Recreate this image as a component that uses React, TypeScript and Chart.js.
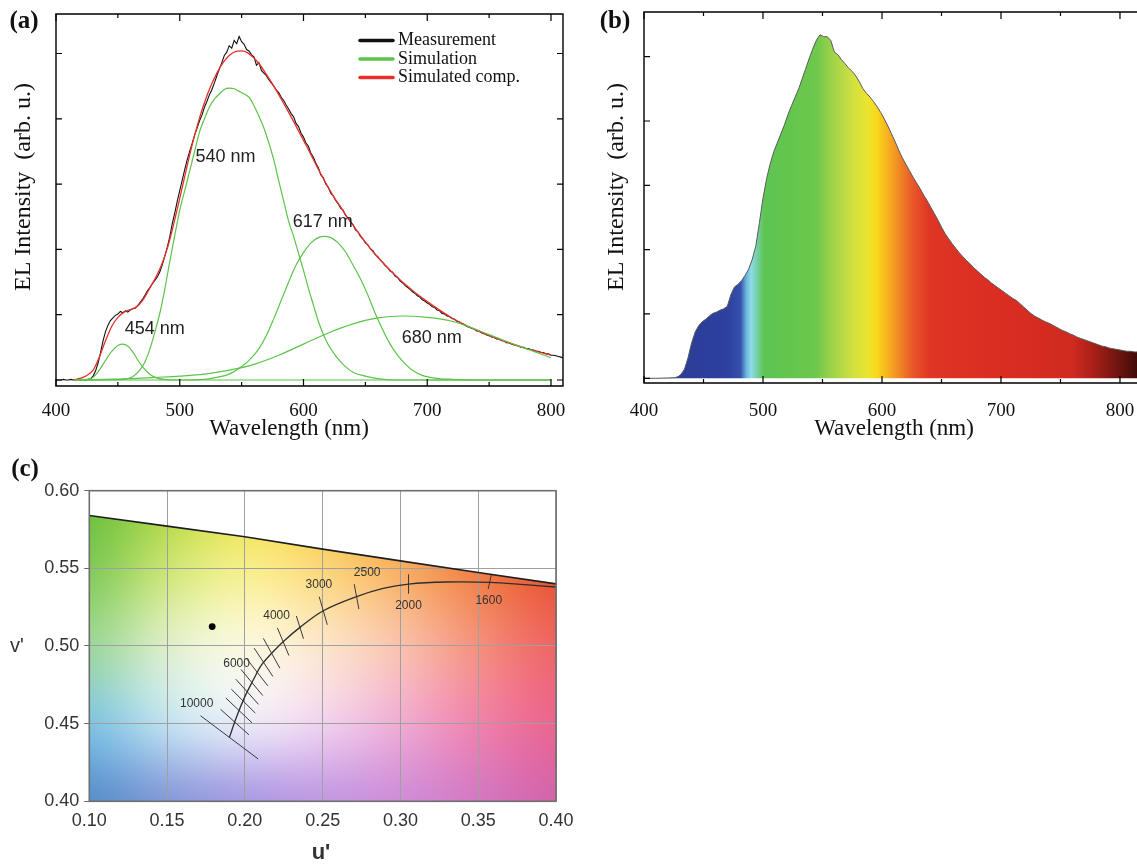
import React, { useEffect, useRef } from 'react';
import { Chart, registerables } from 'chart.js';

Chart.register(...registerables);

const SERIF = '"Liberation Serif", "Times New Roman", serif';
const SANS = '"Liberation Sans", Arial, sans-serif';

// ================= Panel (a) data =================
const A_X_TICKS = [400, 500, 600, 700, 800];
const A_X_MINOR = [450, 550, 650, 750];
const A_Y_TICKS = [0, 1, 2, 3, 4, 5];

const MEAS_START = 400;
const MEAS_STEP = 2;
const MEAS_INT = [
  0.00, 0.00, 0.00, 0.01, 0.00, 0.00, 0.01, 0.00, 0.00, 0.01,
  0.00, 0.01, 0.00, 0.01, 0.02, 0.06, 0.14, 0.26, 0.42, 0.60,
  0.74, 0.84, 0.91, 0.95, 0.99, 1.01, 1.05, 1.03, 1.06, 1.04,
  1.07, 1.09, 1.10, 1.14, 1.19, 1.24, 1.30, 1.37, 1.42, 1.48,
  1.53, 1.58, 1.66, 1.77, 1.90, 2.04, 2.20, 2.40, 2.56, 2.74,
  2.90, 3.06, 3.22, 3.37, 3.50, 3.62, 3.75, 3.86, 3.97, 4.06,
  4.18, 4.27, 4.37, 4.45, 4.55, 4.66, 4.76, 4.86, 4.97, 5.02,
  5.12, 5.08, 5.20, 5.15, 5.26, 5.18, 5.14, 5.06, 5.04, 4.98,
  4.95, 4.82, 4.86, 4.74, 4.70, 4.66, 4.60, 4.55, 4.50, 4.44,
  4.40, 4.33, 4.28, 4.21, 4.15, 4.08, 4.03, 3.93, 3.88, 3.78,
  3.72, 3.63, 3.58, 3.47, 3.41, 3.32, 3.25, 3.14, 3.10, 3.00,
  2.95, 2.86, 2.82, 2.75, 2.70, 2.63, 2.60, 2.52, 2.48, 2.42,
  2.38, 2.30, 2.27, 2.20, 2.16, 2.10, 2.07, 2.01, 1.98, 1.92,
  1.89, 1.84, 1.80, 1.75, 1.72, 1.67, 1.65, 1.59, 1.57, 1.52,
  1.49, 1.45, 1.42, 1.39, 1.35, 1.33, 1.29, 1.27, 1.23, 1.21,
  1.18, 1.16, 1.12, 1.11, 1.07, 1.06, 1.02, 1.01, 0.98, 0.97,
  0.94, 0.93, 0.90, 0.89, 0.86, 0.85, 0.82, 0.81, 0.79, 0.78,
  0.75, 0.75, 0.72, 0.71, 0.69, 0.68, 0.66, 0.65, 0.63, 0.63,
  0.60, 0.60, 0.57, 0.57, 0.55, 0.54, 0.53, 0.52, 0.50, 0.50,
  0.48, 0.48, 0.46, 0.46, 0.44, 0.44, 0.42, 0.42, 0.40, 0.40,
  0.38, 0.38, 0.37, 0.36, 0.35, 0.34,
];
const MEAS_WL = MEAS_INT.map((_, i) => MEAS_START + i * MEAS_STEP);

const FIT_WL = [414, 420, 425, 430, 435, 440, 445, 450, 455, 460, 465, 470, 475, 480, 485, 490, 495, 500,
  505, 510, 515, 520, 525, 530, 535, 540, 545, 550, 555, 560, 565, 570, 575, 580, 585, 590, 595, 600,
  605, 610, 615, 620, 625, 630, 635, 640, 645, 650, 655, 660, 665, 670, 675, 680, 685, 690, 695, 700,
  710, 720, 730, 740, 750, 760, 770, 780, 790, 800];
const FIT_INT = [0.0, 0.03, 0.07, 0.15, 0.35, 0.6, 0.82, 0.96, 1.04, 1.08, 1.12, 1.22, 1.38, 1.55, 1.75, 2.02, 2.38, 2.78,
  3.2, 3.6, 3.95, 4.25, 4.5, 4.7, 4.86, 4.97, 5.03, 5.04, 5.01, 4.93, 4.82, 4.68, 4.53, 4.37, 4.2, 4.03, 3.85, 3.67,
  3.49, 3.3, 3.12, 2.95, 2.79, 2.65, 2.5, 2.37, 2.24, 2.11, 1.99, 1.88, 1.78, 1.68, 1.59, 1.5, 1.42, 1.34, 1.27, 1.2,
  1.07, 0.95, 0.85, 0.76, 0.68, 0.61, 0.54, 0.48, 0.43, 0.38];

const C454_WL = [415, 425, 430, 435, 440, 445, 450, 454, 458, 462, 466, 470, 475, 480, 490, 500, 800];
const C454_INT = [0, 0.01, 0.04, 0.15, 0.30, 0.44, 0.53, 0.55, 0.52, 0.43, 0.31, 0.20, 0.10, 0.04, 0.005, 0, 0];

const C540_WL = [415, 440, 455, 462, 468, 472, 476, 480, 484, 488, 492, 496, 500, 504, 508, 512, 516, 520, 524,
  528, 532, 536, 540, 544, 548, 552, 556, 560, 564, 568, 572, 576, 580, 584, 588, 592, 596, 600, 604, 608,
  612, 616, 620, 626, 632, 640, 650, 660, 675, 800];
const C540_INT = [0, 0, 0.01, 0.05, 0.16, 0.28, 0.48, 0.74, 1.03, 1.40, 1.82, 2.22, 2.60, 2.90, 3.20, 3.50, 3.80, 4.00, 4.18,
  4.30, 4.38, 4.45, 4.47, 4.46, 4.42, 4.38, 4.33, 4.20, 4.04, 3.86, 3.63, 3.37, 3.05, 2.74, 2.43, 2.20, 1.94, 1.68, 1.40, 1.15,
  0.90, 0.70, 0.54, 0.37, 0.24, 0.12, 0.06, 0.02, 0, 0];

const C617_WL = [415, 500, 520, 530, 540, 548, 556, 564, 570, 576, 582, 588, 594, 600, 606, 612, 617, 622, 628, 634,
  640, 646, 652, 658, 664, 670, 676, 682, 688, 696, 706, 720, 740, 800];
const C617_INT = [0, 0, 0.01, 0.04, 0.09, 0.18, 0.30, 0.48, 0.68, 0.94, 1.22, 1.50, 1.76, 1.95, 2.10, 2.18, 2.20, 2.18, 2.10, 1.96,
  1.76, 1.55, 1.30, 1.02, 0.77, 0.55, 0.38, 0.25, 0.15, 0.07, 0.03, 0.01, 0, 0];

const C680_WL = [415, 440, 460, 480, 500, 520, 540, 560, 580, 600, 620, 640, 660, 680, 700, 720, 740, 760, 780, 800];
const C680_INT = [0, 0.01, 0.02, 0.04, 0.06, 0.09, 0.15, 0.24, 0.38, 0.55, 0.72, 0.86, 0.95, 0.98, 0.96, 0.90, 0.77, 0.62, 0.48, 0.34];

const PEAK_LABELS = ['454 nm', '540 nm', '617 nm', '680 nm'];
const PEAK_LABEL_WL = [479.8, 537, 615.6, 703.7];
const PEAK_LABEL_VAL = [0.776, 3.42, 2.42, 0.64];

const LEGEND_LABELS = ['Measurement', 'Simulation', 'Simulated comp.'];

// ================= Panel (b) data =================
const B_X_TICKS = [400, 500, 600, 700, 800];
const B_X_MINOR = [450, 550, 650, 750];
const B_Y_TICKS = [0, 1, 2, 3, 4, 5];

const B_WL = [
  400, 410, 420, 426, 429, 431, 434, 437, 440, 443,
  446, 449, 452, 455, 458, 461, 464, 467, 470, 473,
  476, 479, 482, 485, 488, 491, 494, 497, 500, 503,
  506, 509, 512, 515, 518, 521, 524, 527, 530, 533,
  536, 539, 542, 545, 548, 551, 554, 557, 560, 563,
  566, 569, 572, 575, 578, 581, 584, 587, 590, 593,
  596, 599, 602, 605, 608, 611, 614, 617, 620, 623,
  626, 629, 632, 635, 638, 641, 644, 647, 650, 653,
  656, 659, 662, 665, 668, 671, 674, 677, 680, 683,
  686, 689, 692, 695, 698, 701, 704, 707, 710, 713,
  716, 719, 722, 725, 728, 731, 734, 737, 740, 743,
  746, 749, 752, 755, 758, 761, 764, 767, 770, 773,
  776, 779, 782, 785, 788, 791, 794, 797, 800, 803,
  806, 809, 812, 815,
];
const B_INT = [
  0.00, 0.00, 0.005, 0.01, 0.03, 0.06, 0.14, 0.32, 0.55, 0.72,
  0.82, 0.88, 0.92, 0.97, 1.01, 1.03, 1.06, 1.08, 1.12, 1.30,
  1.42, 1.46, 1.52, 1.60, 1.70, 1.85, 2.06, 2.42, 2.80, 3.10,
  3.33, 3.52, 3.66, 3.80, 3.94, 4.10, 4.24, 4.37, 4.50, 4.66,
  4.82, 4.98, 5.13, 5.26, 5.34, 5.31, 5.31, 5.25, 5.07, 5.03,
  4.95, 4.89, 4.82, 4.77, 4.70, 4.61, 4.50, 4.43, 4.37, 4.30,
  4.22, 4.13, 4.03, 3.92, 3.80, 3.68, 3.55, 3.43, 3.33, 3.23,
  3.13, 3.04, 2.95, 2.85, 2.76, 2.66, 2.56, 2.46, 2.35, 2.25,
  2.17, 2.09, 2.02, 1.95, 1.89, 1.83, 1.78, 1.72, 1.67, 1.62,
  1.57, 1.53, 1.48, 1.44, 1.40, 1.36, 1.32, 1.28, 1.24, 1.21,
  1.16, 1.11, 1.06, 1.01, 0.97, 0.94, 0.91, 0.88, 0.86, 0.83,
  0.80, 0.77, 0.74, 0.72, 0.69, 0.67, 0.64, 0.62, 0.60, 0.58,
  0.56, 0.54, 0.52, 0.50, 0.49, 0.47, 0.46, 0.45, 0.44, 0.43,
  0.42, 0.42, 0.41, 0.41,
];

// spectral colour stops of the filled spectrum (style)
const SPEC_STOP_WL = [400, 433, 470, 481, 486, 490, 495, 501, 520, 545, 560, 575, 588, 596, 604, 614, 626, 640, 700, 760, 778, 800, 815];
const SPEC_STOP_COLOR = ['#2b3d96', '#2b3d96', '#2e40a0', '#3550aa', '#6cb4df', '#8fdbe8', '#74d0a6', '#5ec552', '#62c54e', '#6ec84c',
  '#a4d44a', '#cfe040', '#ece42e', '#f8d71a', '#f7b520', '#f08a25', '#e9572a', '#de3525', '#d92d22', '#d02a20', '#a81f18', '#6b1410', '#3d0a07'];

// ================= Panel (c) data =================
const U_TICKS = [0.10, 0.15, 0.20, 0.25, 0.30, 0.35, 0.40];
const V_TICKS = [0.40, 0.45, 0.50, 0.55, 0.60];

const LOCUS_U = [0.10, 0.15, 0.20, 0.25, 0.30, 0.35, 0.40];
const LOCUS_V = [0.5840, 0.5772, 0.5703, 0.5624, 0.5548, 0.5473, 0.5400];

const PLANCK_U = [0.1900, 0.1947, 0.2000, 0.2054, 0.2107, 0.2172, 0.2246, 0.2354, 0.2504, 0.2718, 0.2889, 0.3052, 0.3296, 0.3574, 0.3800, 0.4000];
const PLANCK_V = [0.4410, 0.4545, 0.4674, 0.4781, 0.4878, 0.4953, 0.5028, 0.5120, 0.5227, 0.5318, 0.5371, 0.5399, 0.5412, 0.5410, 0.5395, 0.5380];

// isotherm segments: [u1, v1, u2, v2]
const ISOTHERMS: number[][] = [
  [0.3584, 0.5457, 0.3564, 0.5367],
  [0.3052, 0.5459, 0.3052, 0.5339],
  [0.2703, 0.5398, 0.2733, 0.5238],
  [0.2478, 0.5317, 0.2530, 0.5137],
  [0.2331, 0.5193, 0.2377, 0.5047],
  [0.2209, 0.5117, 0.2283, 0.4939],
  [0.2119, 0.5049, 0.2225, 0.4857],
  [0.2060, 0.4986, 0.2180, 0.4804],
  [0.2013, 0.4916, 0.2147, 0.4744],
  [0.1975, 0.4849, 0.2115, 0.4681],
  [0.1942, 0.4786, 0.2088, 0.4624],
  [0.1913, 0.4722, 0.2067, 0.4568],
  [0.1878, 0.4665, 0.2046, 0.4505],
  [0.1844, 0.4592, 0.2026, 0.4428],
  [0.1715, 0.4551, 0.2085, 0.4273],
];
const CCT_LABELS = ['10000', '6000', '4000', '3000', '2500', '2000', '1600'];
const CCT_LABEL_U = [0.169, 0.1947, 0.2204, 0.2476, 0.2786, 0.3052, 0.3568];
const CCT_LABEL_V = [0.4627, 0.4884, 0.5193, 0.5393, 0.5472, 0.5260, 0.5292];

const SAMPLE_U = [0.179];
const SAMPLE_V = [0.5125];

// background colour field of the u'v' diagram (style), rows v'=0.60 -> 0.40, cols u'=0.10 -> 0.40
const BG_COLORS: number[][][] = [
  [[100, 190, 60], [170, 210, 60], [235, 225, 60], [248, 200, 60], [245, 160, 50], [235, 100, 40], [225, 60, 30]],
  [[125, 200, 85], [205, 230, 115], [248, 240, 140], [252, 215, 120], [248, 175, 95], [240, 125, 65], [232, 80, 45]],
  [[155, 215, 150], [225, 240, 205], [252, 250, 228], [252, 232, 205], [250, 195, 175], [245, 145, 125], [238, 100, 100]],
  [[125, 195, 228], [195, 228, 242], [238, 238, 250], [242, 212, 240], [240, 172, 212], [240, 130, 172], [235, 100, 142]],
  [[85, 140, 200], [130, 150, 215], [165, 150, 225], [190, 150, 225], [205, 140, 215], [210, 120, 195], [210, 100, 170]],
];

// ================= layout (page pixels) =================
const A_CANVAS = { left: 0, top: 0, width: 580, height: 450 };
const A_AREA = { left: 56, top: 14, right: 563, bottom: 386 };
const A_X = { min: 400, max: 809.7 };
const A_Y = { min: -0.0919, max: 5.605 };

const B_CANVAS = { left: 580, top: 0, width: 557, height: 450 };
const B_AREA = { left: 644, top: 12, right: 1137, bottom: 383 };
const B_X = { min: 400, max: 814.3 };
const B_Y = { min: -0.073, max: 5.694 };

const C_CANVAS = { left: 0, top: 455, width: 580, height: 411 };
const C_AREA = { left: 89.3, top: 490.7, right: 556, bottom: 801.3 };

const GREEN = '#5cc44a';
const RED = '#e8302a';
const BLACK = '#111111';

type Box = { left: number; top: number; width: number; height: number };
type Area = { left: number; top: number; right: number; bottom: number };
type Txt = { text: string; x: number; y: number; font: string; color?: string; align?: CanvasTextAlign; rot?: number };

const pts = (xs: number[], ys: number[]) => xs.map((x, i) => ({ x, y: ys[i] }));

function layoutFor(c: Box, a: Area) {
  return {
    padding: { top: a.top - c.top, right: c.left + c.width - a.right, left: 0, bottom: 0 },
    yWidth: a.left - c.left,
    xHeight: c.top + c.height - a.bottom,
  };
}

function zeroPad(s: any) {
  s.paddingLeft = 0;
  s.paddingRight = 0;
  s.paddingTop = 0;
  s.paddingBottom = 0;
}

function textPlugin(items: Txt[], c: Box) {
  return {
    id: 'pageTexts',
    afterDraw(chart: any) {
      const ctx = chart.ctx as CanvasRenderingContext2D;
      for (const t of items) {
        ctx.save();
        ctx.translate(t.x - c.left, t.y - c.top);
        if (t.rot) ctx.rotate(t.rot);
        ctx.font = t.font;
        ctx.fillStyle = t.color || '#111';
        ctx.textAlign = t.align || 'center';
        ctx.textBaseline = 'middle';
        ctx.fillText(t.text, 0, 0);
        ctx.restore();
      }
    },
  };
}

function dataTextPlugin(id: string, labels: string[], xs: number[], ys: number[], font: string, color: string) {
  return {
    id,
    afterDatasetsDraw(chart: any) {
      const ctx = chart.ctx as CanvasRenderingContext2D;
      const x = chart.scales.x;
      const y = chart.scales.y;
      ctx.save();
      ctx.font = font;
      ctx.fillStyle = color;
      ctx.textAlign = 'center';
      ctx.textBaseline = 'middle';
      labels.forEach((l, i) => ctx.fillText(l, x.getPixelForValue(xs[i]), y.getPixelForValue(ys[i])));
      ctx.restore();
    },
  };
}

function frameTicksPlugin(xMajor: number[], xMinor: number[], yMajor: number[], rightSide: boolean) {
  return {
    id: 'frameTicks',
    afterDatasetsDraw(chart: any) {
      const ctx = chart.ctx as CanvasRenderingContext2D;
      const a = chart.chartArea;
      const x = chart.scales.x;
      const y = chart.scales.y;
      ctx.save();
      ctx.strokeStyle = '#000';
      ctx.lineWidth = 1.4;
      ctx.beginPath();
      if (rightSide) {
        ctx.rect(a.left, a.top, a.right - a.left, a.bottom - a.top);
      } else {
        ctx.moveTo(a.right + 3, a.top);
        ctx.lineTo(a.left, a.top);
        ctx.lineTo(a.left, a.bottom);
        ctx.lineTo(a.right + 3, a.bottom);
      }
      ctx.stroke();
      ctx.lineWidth = 1.2;
      ctx.beginPath();
      const xt = (vals: number[], len: number) =>
        vals.forEach((v) => {
          const p = x.getPixelForValue(v);
          ctx.moveTo(p, a.bottom);
          ctx.lineTo(p, a.bottom - len);
          ctx.moveTo(p, a.top);
          ctx.lineTo(p, a.top + len);
        });
      xt(xMajor, 7);
      xt(xMinor, 4);
      yMajor.forEach((v) => {
        const p = y.getPixelForValue(v);
        ctx.moveTo(a.left, p);
        ctx.lineTo(a.left + 6, p);
        if (rightSide) {
          ctx.moveTo(a.right, p);
          ctx.lineTo(a.right - 6, p);
        }
      });
      ctx.stroke();
      ctx.restore();
    },
  };
}

const legendPlugin = {
  id: 'legendA',
  afterDraw(chart: any) {
    const ctx = chart.ctx as CanvasRenderingContext2D;
    const colors = [BLACK, GREEN, RED];
    const rows = [40.5, 59, 77.5];
    ctx.save();
    ctx.font = `18px ${SERIF}`;
    ctx.textBaseline = 'middle';
    ctx.textAlign = 'left';
    LEGEND_LABELS.forEach((l, i) => {
      ctx.strokeStyle = colors[i];
      ctx.lineWidth = 3.5;
      ctx.lineCap = 'round';
      ctx.beginPath();
      ctx.moveTo(360, rows[i]);
      ctx.lineTo(393, rows[i]);
      ctx.stroke();
      ctx.fillStyle = '#111';
      ctx.fillText(l, 398, rows[i]);
    });
    ctx.restore();
  },
};

const cieBackgroundPlugin = {
  id: 'cieBg',
  beforeDraw(chart: any) {
    const ctx = chart.ctx as CanvasRenderingContext2D;
    const a = chart.chartArea;
    const x = chart.scales.x;
    const y = chart.scales.y;
    const rows = BG_COLORS.length;
    const cols = BG_COLORS[0].length;
    const off = document.createElement('canvas');
    off.width = cols;
    off.height = rows;
    const octx = off.getContext('2d')!;
    const img = octx.createImageData(cols, rows);
    for (let r = 0; r < rows; r++) {
      for (let c = 0; c < cols; c++) {
        const k = (r * cols + c) * 4;
        img.data[k] = BG_COLORS[r][c][0];
        img.data[k + 1] = BG_COLORS[r][c][1];
        img.data[k + 2] = BG_COLORS[r][c][2];
        img.data[k + 3] = 255;
      }
    }
    octx.putImageData(img, 0, 0);
    ctx.save();
    ctx.imageSmoothingEnabled = true;
    (ctx as any).imageSmoothingQuality = 'high';
    const px0 = x.getPixelForValue(U_TICKS[0]);
    const px1 = x.getPixelForValue(U_TICKS[U_TICKS.length - 1]);
    const py0 = y.getPixelForValue(V_TICKS[V_TICKS.length - 1]);
    const py1 = y.getPixelForValue(V_TICKS[0]);
    ctx.drawImage(off, 0.5, 0.5, cols - 1, rows - 1, px0, py0, px1 - px0, py1 - py0);
    ctx.fillStyle = '#ffffff';
    ctx.beginPath();
    ctx.moveTo(a.left - 1, a.top - 1);
    LOCUS_U.forEach((u, i) => ctx.lineTo(x.getPixelForValue(u), y.getPixelForValue(LOCUS_V[i])));
    ctx.lineTo(a.right + 1, y.getPixelForValue(LOCUS_V[LOCUS_V.length - 1]));
    ctx.lineTo(a.right + 1, a.top - 1);
    ctx.closePath();
    ctx.fill();
    ctx.restore();
  },
};

const cieFramePlugin = {
  id: 'cieFrame',
  afterDatasetsDraw(chart: any) {
    const ctx = chart.ctx as CanvasRenderingContext2D;
    const a = chart.chartArea;
    ctx.save();
    ctx.strokeStyle = '#6e6e6e';
    ctx.lineWidth = 1.6;
    ctx.strokeRect(a.left, a.top, a.right - a.left, a.bottom - a.top);
    ctx.restore();
  },
};

function makeA(): any {
  const L = layoutFor(A_CANVAS, A_AREA);
  const comp = (wl: number[], v: number[]) => ({
    data: pts(wl, v), borderColor: GREEN, borderWidth: 1.2, pointRadius: 0, cubicInterpolationMode: 'monotone', order: 1,
  });
  return {
    type: 'line',
    data: {
      datasets: [
        comp(C454_WL, C454_INT),
        comp(C540_WL, C540_INT),
        comp(C617_WL, C617_INT),
        comp(C680_WL, C680_INT),
        { data: pts(FIT_WL, FIT_INT), borderColor: RED, borderWidth: 1.3, pointRadius: 0, cubicInterpolationMode: 'monotone', order: 2 },
        { data: pts(MEAS_WL, MEAS_INT), borderColor: BLACK, borderWidth: 1.1, pointRadius: 0, tension: 0, order: 3 },
      ],
    },
    options: {
      animation: false,
      responsive: false,
      events: [],
      layout: { padding: L.padding },
      plugins: { legend: { display: false }, tooltip: { enabled: false } },
      scales: {
        x: {
          type: 'linear', min: A_X.min, max: A_X.max,
          grid: { display: false }, border: { display: false },
          afterBuildTicks: (s: any) => { s.ticks = A_X_TICKS.map((v) => ({ value: v })); },
          afterFit: (s: any) => { s.height = L.xHeight; zeroPad(s); },
          ticks: { font: { family: SERIF, size: 19 }, color: '#111', padding: 6, maxRotation: 0, autoSkip: false },
        },
        y: {
          min: A_Y.min, max: A_Y.max,
          grid: { display: false }, border: { display: false },
          ticks: { display: false },
          afterBuildTicks: (s: any) => { s.ticks = A_Y_TICKS.map((v) => ({ value: v })); },
          afterFit: (s: any) => { s.width = L.yWidth; zeroPad(s); },
        },
      },
    },
    plugins: [
      frameTicksPlugin(A_X_TICKS, A_X_MINOR, A_Y_TICKS, true),
      dataTextPlugin('peakLabels', PEAK_LABELS, PEAK_LABEL_WL, PEAK_LABEL_VAL, `18px ${SANS}`, '#222'),
      legendPlugin,
      textPlugin([
        { text: '(a)', x: 24, y: 22, font: `bold 25px ${SERIF}` },
        { text: 'Wavelength (nm)', x: 289, y: 429, font: `23px ${SERIF}` },
        { text: 'EL Intensity  (arb. u.)', x: 24, y: 187, font: `24px ${SERIF}`, rot: -Math.PI / 2 },
      ], A_CANVAS),
    ],
  };
}

function makeB(): any {
  const L = layoutFor(B_CANVAS, B_AREA);
  return {
    type: 'line',
    data: {
      datasets: [
        {
          data: pts(B_WL, B_INT),
          borderColor: '#5a5a5a',
          borderWidth: 1,
          pointRadius: 0,
          tension: 0,
          fill: 'origin',
          backgroundColor: (ctx: any) => {
            const chart = ctx.chart;
            const x = chart.scales && chart.scales.x;
            if (!chart.chartArea || !x) return '#d92d22';
            const p0 = x.getPixelForValue(SPEC_STOP_WL[0]);
            const p1 = x.getPixelForValue(SPEC_STOP_WL[SPEC_STOP_WL.length - 1]);
            const g = chart.ctx.createLinearGradient(p0, 0, p1, 0);
            SPEC_STOP_WL.forEach((w, i) => {
              const f = Math.min(1, Math.max(0, (x.getPixelForValue(w) - p0) / (p1 - p0)));
              g.addColorStop(f, SPEC_STOP_COLOR[i]);
            });
            return g;
          },
        },
      ],
    },
    options: {
      animation: false,
      responsive: false,
      events: [],
      layout: { padding: L.padding },
      plugins: { legend: { display: false }, tooltip: { enabled: false }, filler: { propagate: false } },
      scales: {
        x: {
          type: 'linear', min: B_X.min, max: B_X.max,
          grid: { display: false }, border: { display: false },
          afterBuildTicks: (s: any) => { s.ticks = B_X_TICKS.map((v) => ({ value: v })); },
          afterFit: (s: any) => { s.height = L.xHeight; zeroPad(s); },
          ticks: { font: { family: SERIF, size: 19 }, color: '#111', padding: 9, maxRotation: 0, autoSkip: false },
        },
        y: {
          min: B_Y.min, max: B_Y.max,
          grid: { display: false }, border: { display: false },
          ticks: { display: false },
          afterBuildTicks: (s: any) => { s.ticks = B_Y_TICKS.map((v) => ({ value: v })); },
          afterFit: (s: any) => { s.width = L.yWidth; zeroPad(s); },
        },
      },
    },
    plugins: [
      frameTicksPlugin(B_X_TICKS, B_X_MINOR, B_Y_TICKS, false),
      textPlugin([
        { text: '(b)', x: 615, y: 22, font: `bold 25px ${SERIF}` },
        { text: 'Wavelength (nm)', x: 894, y: 429, font: `23px ${SERIF}` },
        { text: 'EL Intensity  (arb. u.)', x: 617, y: 187, font: `24px ${SERIF}`, rot: -Math.PI / 2 },
      ], B_CANVAS),
    ],
  };
}

function makeC(): any {
  const L = layoutFor(C_CANVAS, C_AREA);
  const iso = ISOTHERMS.map((s) => ({
    data: [{ x: s[0], y: s[1] }, { x: s[2], y: s[3] }],
    showLine: true, borderColor: '#3a3a3a', borderWidth: 1, pointRadius: 0,
  }));
  return {
    type: 'scatter',
    data: {
      datasets: [
        { data: pts(SAMPLE_U, SAMPLE_V), pointRadius: 3.4, backgroundColor: '#000', borderColor: '#000', borderWidth: 0 },
        { data: pts(LOCUS_U, LOCUS_V), showLine: true, borderColor: '#1e1e1e', borderWidth: 1.6, pointRadius: 0 },
        { data: pts(PLANCK_U, PLANCK_V), showLine: true, borderColor: '#2e2e2e', borderWidth: 1.3, pointRadius: 0, tension: 0.35 },
        ...iso,
      ],
    },
    options: {
      animation: false,
      responsive: false,
      events: [],
      layout: { padding: L.padding },
      plugins: { legend: { display: false }, tooltip: { enabled: false } },
      scales: {
        x: {
          type: 'linear', min: 0.1, max: 0.4,
          grid: { color: '#a0a0a0', lineWidth: 1, drawTicks: false }, border: { display: false },
          afterBuildTicks: (s: any) => { s.ticks = U_TICKS.map((v) => ({ value: v })); },
          afterFit: (s: any) => { s.height = L.xHeight; zeroPad(s); },
          ticks: { font: { family: SANS, size: 18 }, color: '#333', padding: 9, maxRotation: 0, autoSkip: false, callback: (v: any) => Number(v).toFixed(2) },
        },
        y: {
          type: 'linear', min: 0.4, max: 0.6,
          grid: { color: '#a0a0a0', lineWidth: 1, drawTicks: true, tickLength: 5, tickColor: '#666' }, border: { display: false },
          afterBuildTicks: (s: any) => { s.ticks = V_TICKS.map((v) => ({ value: v })); },
          afterFit: (s: any) => { s.width = L.yWidth; zeroPad(s); },
          ticks: { font: { family: SANS, size: 18 }, color: '#333', padding: 5, autoSkip: false, callback: (v: any) => Number(v).toFixed(2) },
        },
      },
    },
    plugins: [
      cieBackgroundPlugin,
      cieFramePlugin,
      dataTextPlugin('cctLabels', CCT_LABELS, CCT_LABEL_U, CCT_LABEL_V, `12px ${SANS}`, '#333'),
      textPlugin([
        { text: '(c)', x: 25, y: 470, font: `bold 25px ${SERIF}` },
        { text: "u'", x: 321, y: 853, font: `bold 22px ${SANS}`, color: '#333' },
        { text: "v'", x: 17, y: 646, font: `20px ${SANS}`, color: '#333' },
      ], C_CANVAS),
    ],
  };
}

function ChartPanel({ box, make }: { box: Box; make: () => any }) {
  const ref = useRef<HTMLCanvasElement>(null);
  useEffect(() => {
    const chart = new Chart(ref.current as HTMLCanvasElement, make());
    return () => chart.destroy();
  }, []);
  return (
    <canvas
      ref={ref}
      width={box.width}
      height={box.height}
      style={{ position: 'absolute', left: box.left, top: box.top, width: box.width, height: box.height }}
    />
  );
}

export default function App() {
  return (
    <div style={{ position: 'absolute', left: 0, top: 0, width: 1137, height: 866, overflow: 'hidden', background: '#fff' }}>
      <ChartPanel box={A_CANVAS} make={makeA} />
      <ChartPanel box={B_CANVAS} make={makeB} />
      <ChartPanel box={C_CANVAS} make={makeC} />
    </div>
  );
}
